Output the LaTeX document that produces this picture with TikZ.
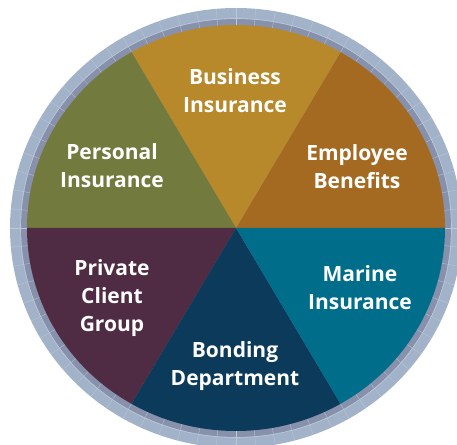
\documentclass[tikz,border=0pt]{standalone}
\usepackage{fontspec}
\usetikzlibrary{calc}
\setmainfont{Open Sans}
\definecolor{cEmp}{HTML}{A46A22}
\definecolor{cBus}{HTML}{B8892A}
\definecolor{cPer}{HTML}{737A3E}
\definecolor{cPri}{HTML}{4F2C44}
\definecolor{cBon}{HTML}{0B3A5A}
\definecolor{cMar}{HTML}{006E8A}
\definecolor{ringLight}{HTML}{A2B3C9}
\definecolor{ringDark}{HTML}{8791AB}
\definecolor{ringLine}{HTML}{BCC8D8}
\tikzset{
  lbl/.style={text=white, align=center, font=\fontsize{21}{28}\selectfont\bfseries, inner sep=0pt},
}
\begin{document}
\begin{tikzpicture}[x=1pt,y=1pt]
\useasboundingbox (0,0) rectangle (457,444);
\clip (0,0) rectangle (457,444);
\coordinate (c) at (236,216);
% ring
\fill[ringLight] (c) ellipse [x radius=226, y radius=220];
\fill[ringDark] (c) ellipse [x radius=215, y radius=209];
\draw[ringLine, line width=0.6pt] (c) ellipse [x radius=215.5, y radius=209.5];
\foreach \a in {0,5,...,355} {
  \draw[ringLine, line width=0.3pt] ($(c)+(\a:209 and 203)$) -- ($(c)+(\a:226 and 220)$);
}
% sectors
\foreach \s/\e/\col in {0/60/cEmp,60/120/cBus,120/180/cPer,180/240/cPri,240/300/cBon,300/360/cMar} {
  \fill[\col] (c) -- ($(c)+(\s:209 and 203)$) arc[start angle=\s, end angle=\e, x radius=209, y radius=203] -- cycle;
}
% labels
\node[lbl] (bus) at (235,353) {Business\\Insurance};
\node[lbl] (per) at (112,278) {Personal\\Insurance};
\node[lbl] (emp) at (357,277) {Employee\\Benefits};
\node[lbl] (pri) at (112,146) {Private\\Client\\Group};
\node[lbl] (bon) at (235,78) {Bonding\\Department};
\node[lbl] (mar) at (360,156) {Marine\\Insurance};
\end{tikzpicture}
\end{document}
